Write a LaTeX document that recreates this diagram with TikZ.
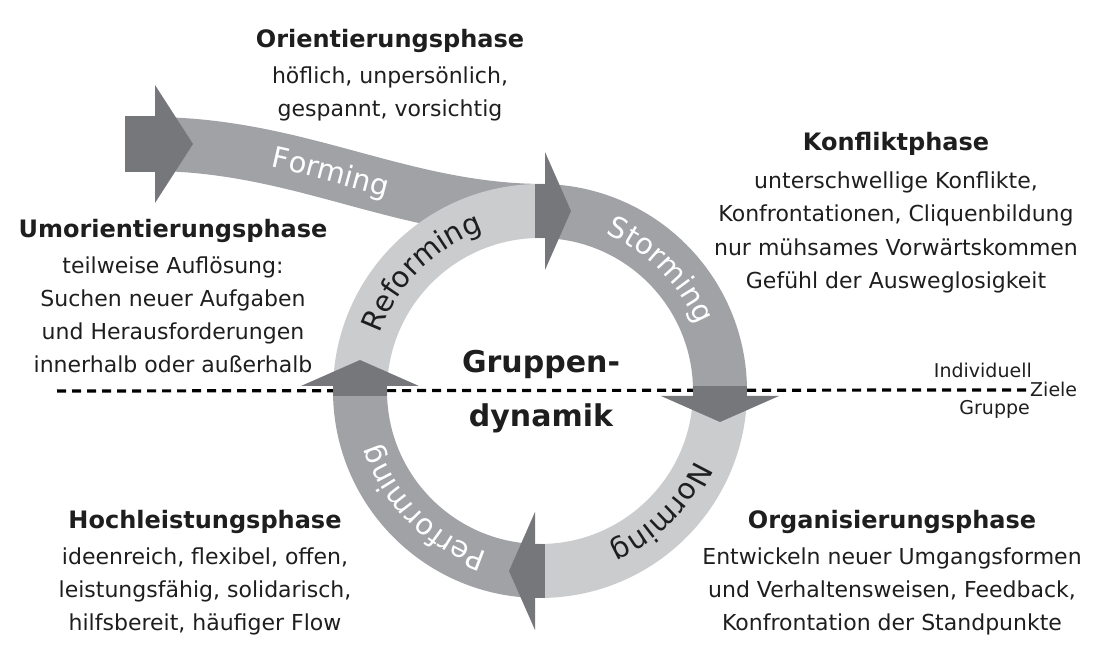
\documentclass[tikz,border=0pt]{standalone}
\usepackage{fontspec}
\setmainfont{DejaVu Sans}
\usetikzlibrary{positioning,decorations.text}
\definecolor{ringmid}{HTML}{A1A2A6}
\definecolor{ringlight}{HTML}{CBCCCE}
\definecolor{ringdark}{HTML}{76777A}
\definecolor{ink}{HTML}{1E1E1E}
\newcommand\ringfont{\fontsize{29}{29}\selectfont}

\begin{document}
\begin{tikzpicture}[x=1pt,y=1pt,line join=round,
  every node/.style={inner sep=0pt,text=ink},
  heading/.style={font=\fontsize{24}{24}\selectfont\bfseries,anchor=base},
  body/.style={font=\fontsize{22}{33}\selectfont,align=center},
  small/.style={font=\fontsize{19}{19}\selectfont},
  ring/.style={line width=54pt}]
  \useasboundingbox (0,0) rectangle (1099,663);
  \coordinate (C) at (540,272);
  % 虚线与“Ziele”
  \coordinate (dashStart) at (57,272);
  \node[small,anchor=base west] (ziele) at (1030,266) {Ziele};
  \node[small,anchor=base east] (indiv) at (1032,285) {Individuell};
  \node[small,anchor=base east] (gruppe) at (1030,248) {Gruppe};
  \draw[line width=3.2pt,dash pattern=on 9pt off 6pt] (dashStart) -- (ziele.west);
  % Forming 带
  \draw[ring,ringmid] (150,519) .. controls (300,519) and (400,452) .. (545,452);
  \path[decorate,decoration={text along path,text align={left indent=124pt},raise=-9pt,
    text color=white,text={|\ringfont|Forming}}]
    (150,519) .. controls (300,519) and (400,452) .. (545,452);
  \fill[ringdark] (125,491) rectangle (156,547);
  \fill[ringdark] (155,578) -- (193,519) -- (155,460) -- cycle;
  % 环
  \draw[ring,ringlight] ([shift={(180:180)}]C) arc[start angle=180,end angle=90,radius=180];
  \draw[ring,ringmid] ([shift={(90:180)}]C) arc[start angle=90,end angle=0,radius=180];
  \draw[ring,ringlight] ([shift={(0:180)}]C) arc[start angle=0,end angle=-90,radius=180];
  \draw[ring,ringmid] ([shift={(-90:180)}]C) arc[start angle=-90,end angle=-180,radius=180];
  % 箭头
  \foreach \a in {0,-90,-180,-270}{
    \begin{scope}[shift={(C)},rotate=\a]
      \fill[ringdark] (-5,153) rectangle (5,207);
      \fill[ringdark] (5,121) -- (31,180) -- (5,239) -- cycle;
    \end{scope}}
  % 环上文字
  \path[decorate,decoration={text along path,text align=center,text color=ink,
    text={|\ringfont|Reforming}}]
    ([shift={(180:170)}]C) arc[start angle=180,end angle=90,radius=170];
  \path[decorate,decoration={text along path,text align=center,text color=white,
    text={|\ringfont|Storming}}]
    ([shift={(90:170)}]C) arc[start angle=90,end angle=0,radius=170];
  \path[decorate,decoration={text along path,text align=center,text color=ink,
    text={|\ringfont|Norming}}]
    ([shift={(0:170)}]C) arc[start angle=0,end angle=-90,radius=170];
  \path[decorate,decoration={text along path,text align=center,text color=white,
    text={|\ringfont|Performing}}]
    ([shift={(-90:170)}]C) arc[start angle=-90,end angle=-180,radius=170];
  % 中心
  \node[font=\fontsize{30}{54}\selectfont\bfseries,align=center] (gruppen) at (541,271) {Gruppen-\\dynamik};
  % 各阶段
  \node[heading] (orient) at (390,615) {Orientierungsphase};
  \node[body,below=13pt of orient] (orientText) {höflich, unpersönlich,\\gespannt, vorsichtig};
  \node[heading] (konflikt) at (896,512) {Konfliktphase};
  \node[body,below=15pt of konflikt,font=\fontsize{22}{33.5}\selectfont] (konfliktText) {unterschwellige Konflikte,\\Konfrontationen, Cliquenbildung\\nur mühsames Vorwärtskommen\\Gefühl der Ausweglosigkeit};
  \node[heading] (umorient) at (173,425) {Umorientierungsphase};
  \node[body,below=13pt of umorient] (umorientText) {teilweise Auflösung:\\Suchen neuer Aufgaben\\und Herausforderungen\\innerhalb oder außerhalb};
  \node[heading] (hochleist) at (205,134) {Hochleistungsphase};
  \node[body,below=13pt of hochleist] (hochleistText) {ideenreich, flexibel, offen,\\leistungsfähig, solidarisch,\\hilfsbereit, häufiger Flow};
  \node[heading] (organis) at (892,134) {Organisierungsphase};
  \node[body,below=13pt of organis] (organisText) {Entwickeln neuer Umgangsformen\\und Verhaltensweisen, Feedback,\\Konfrontation der Standpunkte};
\end{tikzpicture}
\end{document}
